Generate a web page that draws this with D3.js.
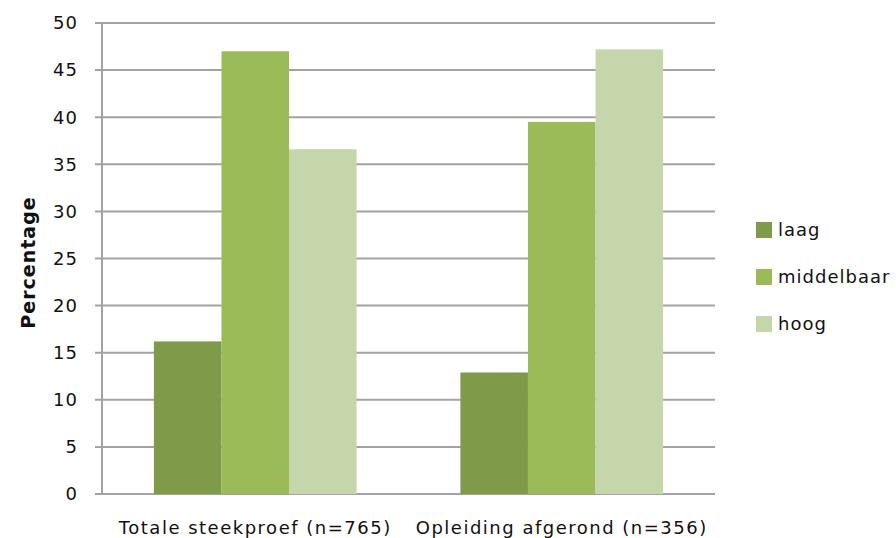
<!DOCTYPE html>
<html>
<head>
<meta charset="utf-8">
<script src="https://cdn.jsdelivr.net/npm/d3@7"></script>
<style>
  body { margin: 0; background: #fff; }
  text { font-family: "DejaVu Sans", sans-serif; fill: #111; }
</style>
</head>
<body>
<div id="chart"></div>
<script>
// data
const categories = ["Totale steekproef (n=765)", "Opleiding afgerond (n=356)"];
const seriesNames = ["laag", "middelbaar", "hoog"];
const laag = [16.2, 12.9];
const middelbaar = [47.0, 39.5];
const hoog = [36.6, 47.2];
const yTicks = [0, 5, 10, 15, 20, 25, 30, 35, 40, 45, 50];
const colors = ["#7f9a48", "#9bbb59", "#c5d6aa"];

const W = 896, H = 538;
const margin = {top: 23, right: 181, bottom: 44, left: 102};
const width = W - margin.left - margin.right;
const height = H - margin.top - margin.bottom;

const svg = d3.select("#chart").append("svg")
    .attr("width", W)
    .attr("height", H);

const g = svg.append("g")
    .attr("transform", `translate(${margin.left},${margin.top})`);

const values = [laag, middelbaar, hoog];

const x0 = d3.scaleBand().domain(categories).range([0, width]);
const x1 = d3.scaleBand().domain(seriesNames).range([0, x0.bandwidth()])
    .paddingInner(0).paddingOuter(0.768);
const y = d3.scaleLinear().domain([0, 50]).range([height, 0]);

// gridlines
g.selectAll(".grid")
  .data(yTicks)
  .enter().append("line")
    .attr("x1", -7)
    .attr("x2", width)
    .attr("y1", d => y(d))
    .attr("y2", d => y(d))
    .attr("stroke", "#a3a3a3")
    .attr("stroke-width", 2);

// bars
seriesNames.forEach((s, i) => {
  g.selectAll(".bar-" + s)
    .data(categories)
    .enter().append("rect")
      .attr("x", d => x0(d) + x1(s))
      .attr("y", (d, j) => y(values[i][j]))
      .attr("width", x1.bandwidth())
      .attr("height", (d, j) => height - y(values[i][j]))
      .attr("fill", colors[i]);
});

// y axis line
g.append("line")
    .attr("x1", 0).attr("x2", 0)
    .attr("y1", 0).attr("y2", height)
    .attr("stroke", "#a3a3a3")
    .attr("stroke-width", 2);

// y tick labels
g.selectAll(".ytick")
  .data(yTicks)
  .enter().append("text")
    .attr("x", -24)
    .attr("y", d => y(d))
    .attr("dy", "0.35em")
    .attr("text-anchor", "end")
    .style("font-size", "18px")
    .style("letter-spacing", "1px")
    .text(d => d);

// category labels
g.selectAll(".xlab")
  .data(categories)
  .enter().append("text")
    .attr("x", d => x0(d) + x0.bandwidth() / 2)
    .attr("y", height + 40)
    .attr("text-anchor", "middle")
    .style("font-size", "18px")
    .style("letter-spacing", "1.5px")
    .text(d => d);

// y title
svg.append("text")
    .attr("transform", `translate(35,${margin.top + height / 2 + 4}) rotate(-90)`)
    .attr("text-anchor", "middle")
    .style("font-size", "19px")
    .style("font-weight", "bold")
    .style("letter-spacing", "1px")
    .text("Percentage");

// legend
const legend = svg.append("g").attr("transform", "translate(756,222)");
seriesNames.forEach((s, i) => {
  const row = legend.append("g").attr("transform", `translate(0,${i * 47})`);
  row.append("rect")
      .attr("width", 16).attr("height", 16)
      .attr("fill", colors[i]);
  row.append("text")
      .attr("x", 22).attr("y", 8)
      .attr("dy", "0.35em")
      .style("font-size", "18px")
      .style("letter-spacing", "1px")
      .text(s);
});
</script>
</body>
</html>
